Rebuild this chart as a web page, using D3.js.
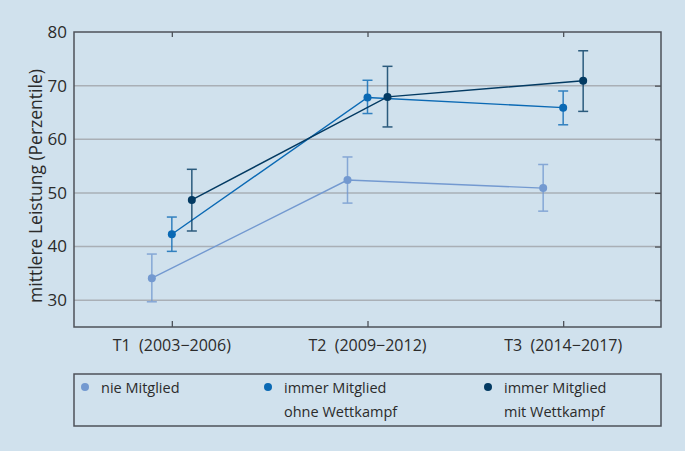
<!doctype html>
<html>
<head>
<meta charset="utf-8">
<script src="https://cdn.jsdelivr.net/npm/d3@7"></script>
<style>
    body { margin: 0; background: #d0e1ed; }
    svg { display: block; font-family: "Open Sans", "Noto Sans", sans-serif; }
</style>
</head>
<body>
<svg id="chart" width="685" height="451"></svg>
<script>
    // data
    var periods = ["T1", "T2", "T3"];
    var periodLabels = ["T1  (2003\u22122006)", "T2  (2009\u22122012)", "T3  (2014\u22122017)"];
    var yTicks = [30, 40, 50, 60, 70, 80];

    var nieMean = [34.1, 52.4, 50.9];
    var nieLow = [29.7, 48.1, 46.6];
    var nieHigh = [38.6, 56.7, 55.3];

    var ohneMean = [42.3, 67.8, 65.9];
    var ohneLow = [39.1, 64.8, 62.7];
    var ohneHigh = [45.5, 71.0, 69.0];

    var mitMean = [48.7, 67.9, 70.9];
    var mitLow = [42.9, 62.3, 65.2];
    var mitHigh = [54.4, 73.6, 76.5];

    var groups = [
        { name: ["nie Mitglied"], color: "#7399d0", offset: -20, mean: nieMean, lo: nieLow, hi: nieHigh },
        { name: ["immer Mitglied", "ohne Wettkampf"], color: "#0a69b4", offset: 0, mean: ohneMean, lo: ohneLow, hi: ohneHigh },
        { name: ["immer Mitglied", "mit Wettkampf"], color: "#033a62", offset: 20, mean: mitMean, lo: mitLow, hi: mitHigh }
    ];

    var svg = d3.select("#chart");
    var pLeft = 74, pRight = 661, pTop = 32, pBottom = 327;
    var axisColor = "#4d5259";

    var x = d3.scalePoint().domain(periods).range([pLeft, pRight]).padding(0.5);
    var y = d3.scaleLinear().domain([25, 80]).range([pBottom, pTop]);

    // grid lines
    svg.append("g").selectAll("line").data(yTicks.slice(0, -1)).join("line")
        .attr("x1", pLeft).attr("x2", pRight)
        .attr("y1", function (d) { return y(d); }).attr("y2", function (d) { return y(d); })
        .style("stroke", "#a9afb6").style("stroke-width", 1.5);

    // y axis with labels
    var yAxis = svg.append("g").attr("transform", "translate(" + pLeft + ",0)")
        .call(d3.axisLeft(y).tickValues(yTicks).tickSize(0).tickPadding(7));
    yAxis.select(".domain").remove();
    yAxis.selectAll("text").style("font-size", "17px").style("fill", "#2b2b2b")
        .style("font-family", "'Open Sans', sans-serif");

    // right axis inner ticks
    var yRight = svg.append("g").attr("transform", "translate(" + pRight + ",0)")
        .call(d3.axisLeft(y).tickValues(yTicks.slice(0, -1)).tickSize(6).tickFormat(""));
    yRight.select(".domain").remove();
    yRight.selectAll("line").style("stroke", axisColor).style("stroke-width", 1.3);

    // x axis bottom
    var xAxis = svg.append("g").attr("transform", "translate(0," + pBottom + ")")
        .call(d3.axisTop(x).tickSize(6).tickFormat(""));
    xAxis.select(".domain").remove();
    xAxis.selectAll("line").style("stroke", axisColor).style("stroke-width", 1.3);

    svg.append("g").selectAll("text").data(periods).join("text")
        .attr("x", function (d) { return x(d); }).attr("y", pBottom + 24)
        .attr("text-anchor", "middle")
        .style("font-size", "16px").style("fill", "#2b2b2b").style("white-space", "pre")
        .text(function (d, i) { return periodLabels[i]; });

    // x axis top
    var xTop = svg.append("g").attr("transform", "translate(0," + pTop + ")")
        .call(d3.axisBottom(x).tickSize(5).tickFormat(""));
    xTop.select(".domain").remove();
    xTop.selectAll("line").style("stroke", axisColor).style("stroke-width", 1.3);

    // frame
    svg.append("rect").attr("x", pLeft).attr("y", pTop)
        .attr("width", pRight - pLeft).attr("height", pBottom - pTop)
        .style("fill", "none").style("stroke", axisColor).style("stroke-width", 1.5);

    // y title
    svg.append("text")
        .attr("transform", "translate(42,186) rotate(-90)")
        .attr("text-anchor", "middle")
        .style("font-size", "17.5px").style("fill", "#2b2b2b")
        .text("mittlere Leistung (Perzentile)");

    // series
    var line = d3.line()
        .x(function (d) { return d.x; })
        .y(function (d) { return y(d.v); });

    groups.forEach(function (g) {
        var pts = periods.map(function (p, i) {
            return { x: x(p) + g.offset, v: g.mean[i], lo: g.lo[i], hi: g.hi[i] };
        });
        var gg = svg.append("g");
        gg.append("path").attr("d", line(pts))
            .style("fill", "none").style("stroke", g.color).style("stroke-width", 1.4);
        var eb = gg.selectAll("g.eb").data(pts).join("g").attr("class", "eb")
            .style("stroke", g.color).style("stroke-width", 1.5).style("opacity", 0.8);
        eb.append("line")
            .attr("x1", function (d) { return d.x; }).attr("x2", function (d) { return d.x; })
            .attr("y1", function (d) { return y(d.lo); }).attr("y2", function (d) { return y(d.hi); });
        eb.append("line")
            .attr("x1", function (d) { return d.x - 5; }).attr("x2", function (d) { return d.x + 5; })
            .attr("y1", function (d) { return y(d.hi); }).attr("y2", function (d) { return y(d.hi); });
        eb.append("line")
            .attr("x1", function (d) { return d.x - 5; }).attr("x2", function (d) { return d.x + 5; })
            .attr("y1", function (d) { return y(d.lo); }).attr("y2", function (d) { return y(d.lo); });
        gg.selectAll("circle").data(pts).join("circle")
            .attr("cx", function (d) { return d.x; }).attr("cy", function (d) { return y(d.v); })
            .attr("r", 4).style("fill", g.color);
    });

    // legend
    var legTop = 374, legBottom = 426;
    svg.append("rect").attr("x", pLeft).attr("y", legTop)
        .attr("width", pRight - pLeft).attr("height", legBottom - legTop)
        .style("fill", "none").style("stroke", axisColor).style("stroke-width", 1.5);
    var legX = [85, 268, 488];
    groups.forEach(function (g, i) {
        svg.append("circle").attr("cx", legX[i]).attr("cy", legTop + 13).attr("r", 4)
            .style("fill", g.color);
        g.name.forEach(function (t, j) {
            svg.append("text").attr("x", legX[i] + 16).attr("y", legTop + 19 + j * 24)
                .style("font-size", "14.5px").style("fill", "#2b2b2b").text(t);
        });
    });
</script>
</body>
</html>
